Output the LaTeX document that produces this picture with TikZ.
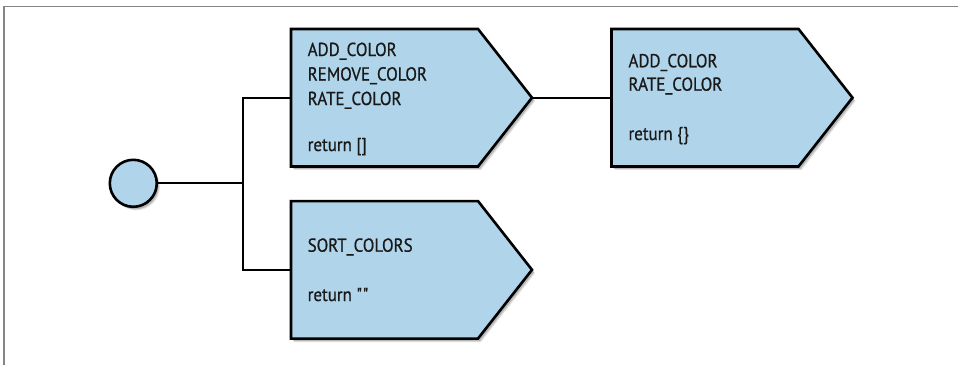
\documentclass[tikz,border=0pt]{standalone}
\usepackage{fontspec}
\setmainfont{PT Sans}[FakeStretch=0.90,FakeBold=0.7]
\usetikzlibrary{shapes.symbols,shadows}
\definecolor{boxblue}{HTML}{B0D4EA}
\definecolor{framegray}{HTML}{858585}
\tikzset{
  softshadow/.style={
    general shadow={fill=black,opacity=0.12,shadow xshift=3pt,shadow yshift=-3.5pt},
    general shadow={fill=black,opacity=0.18,shadow xshift=2pt,shadow yshift=-2.5pt}},
  stepbox/.style={signal, signal to=east, signal pointer angle=103.7,
    draw=black, line width=2.6pt, fill=boxblue, minimum width=241pt,
    minimum height=137.5pt, inner sep=0pt, outer sep=0pt, anchor=west,
    line join=miter, softshadow},
  startdot/.style={circle, draw=black, line width=2.6pt, fill=boxblue,
    minimum size=47pt, inner sep=0pt, outer sep=0pt, softshadow},
  lbl/.style={anchor=base west, inner sep=0pt, font=\fontsize{18.8}{22}\selectfont, text=black!90},
  conn/.style={draw=black, line width=2.2pt}
}
\begin{document}
\begin{tikzpicture}[x=1pt,y=-1pt]
\useasboundingbox (0,0) rectangle (958,365);
\fill[white] (0,0) rectangle (958,365);
\draw[framegray, line width=1.6pt] (4,365) -- (4,6.5) -- (958,6.5);

\node[startdot] (start) at (133.3,183.3) {};
\coordinate (j) at (242.7,183.3);

\node[stepbox] (b1) at (291,97.7) {};
\node[stepbox] (b2) at (611.5,97.7) {};
\node[stepbox] (b3) at (291,269.8) {};

\draw[conn] (start.east) -- (j);
\draw[conn] (b1.west) -| (j) |- (b3.west);
\draw[conn] (b1.east) -- (b2.west);

\node[lbl] (t11) at (307.5,56) {ADD\_COLOR};
\node[lbl] (t12) at (307.5,80.5) {REMOVE\_COLOR};
\node[lbl] (t13) at (307.5,105) {RATE\_COLOR};
\node[lbl] (t14) at (307.5,151) {return []};

\node[lbl] (t21) at (628.3,67.3) {ADD\_COLOR};
\node[lbl] (t22) at (628.3,90.7) {RATE\_COLOR};
\node[lbl] (t23) at (628.3,140) {return \{\}};

\node[lbl] (t31) at (307.5,251.7) {SORT\_COLORS};
\node[lbl] (t32) at (307.5,301) {return \textquotedbl\textquotedbl};
\end{tikzpicture}
\end{document}
